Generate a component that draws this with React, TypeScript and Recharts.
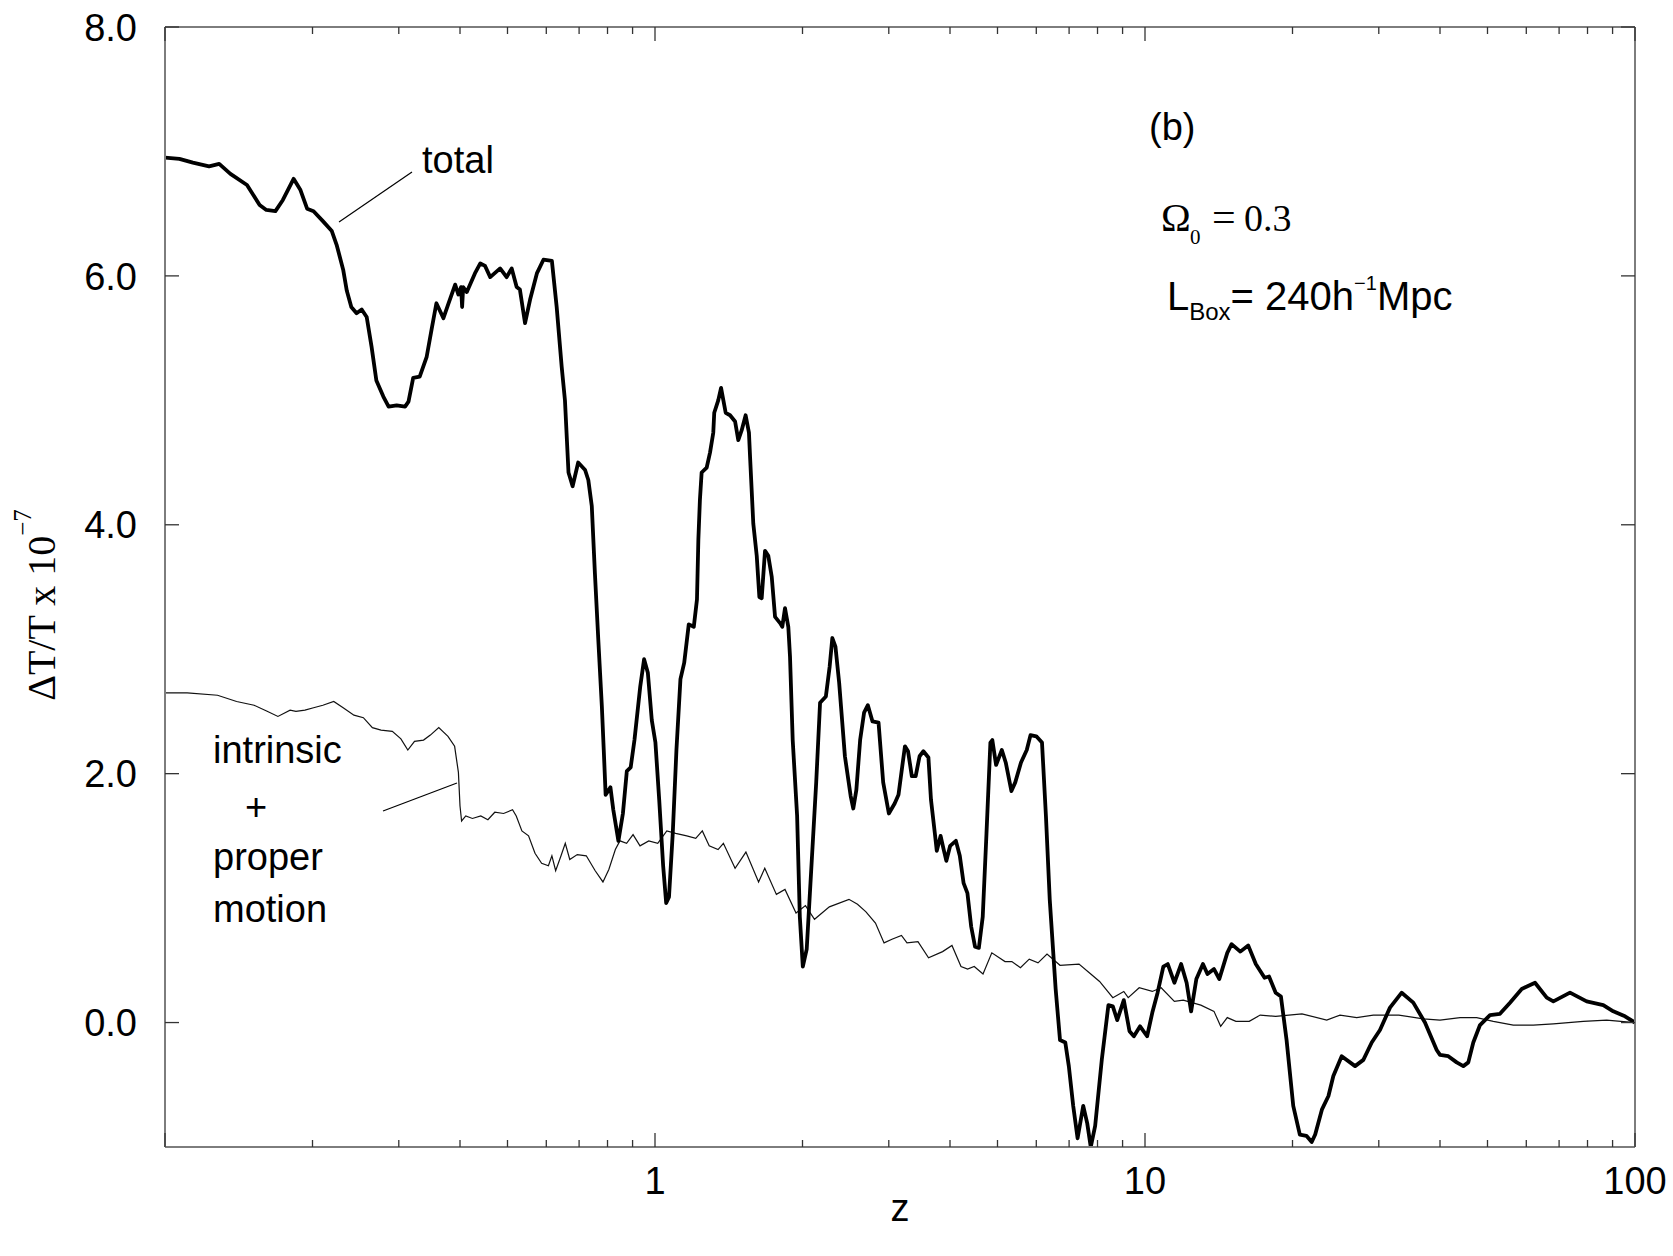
import React from 'react';
import { LineChart, Line, XAxis, YAxis } from 'recharts';

// Redshift samples and ΔT/T (units of 1e-7) for the total signal
const totalZ = [
  0.1, 0.107, 0.114, 0.123, 0.129, 0.136, 0.147, 0.156, 0.161, 0.168, 0.174, 0.183, 0.189, 0.195,
  0.201, 0.21, 0.219, 0.224, 0.231, 0.235, 0.24, 0.246, 0.252, 0.258, 0.264, 0.27, 0.279, 0.286,
  0.297, 0.309, 0.314, 0.321, 0.331, 0.342, 0.35, 0.358, 0.37, 0.379, 0.391, 0.397, 0.402, 0.404,
  0.406, 0.413, 0.429, 0.44, 0.45, 0.461, 0.483, 0.498, 0.51, 0.522, 0.53, 0.543, 0.556, 0.574,
  0.592, 0.616, 0.63, 0.645, 0.655, 0.666, 0.679, 0.697, 0.72, 0.731, 0.743, 0.754, 0.766, 0.779,
  0.786, 0.793, 0.811, 0.822, 0.842, 0.86, 0.876, 0.892, 0.908, 0.933, 0.95, 0.967, 0.985, 1.002,
  1.02, 1.039, 1.054, 1.068, 1.087, 1.106, 1.127, 1.147, 1.172, 1.2, 1.218, 1.226, 1.235, 1.245,
  1.275, 1.295, 1.315, 1.321, 1.346, 1.364, 1.379, 1.394, 1.423, 1.457, 1.479, 1.503, 1.531, 1.555,
  1.563, 1.587, 1.613, 1.633, 1.651, 1.677, 1.703, 1.731, 1.758, 1.8, 1.819, 1.842, 1.871, 1.886,
  1.91, 1.95, 1.975, 2.003, 2.04, 2.095, 2.133, 2.172, 2.232, 2.272, 2.301, 2.335, 2.376, 2.441,
  2.508, 2.539, 2.576, 2.622, 2.671, 2.719, 2.779, 2.859, 2.922, 3.001, 3.084, 3.14, 3.196, 3.237,
  3.284, 3.343, 3.404, 3.467, 3.53, 3.614, 3.658, 3.725, 3.759, 3.827, 3.883, 3.932, 4.003, 4.112,
  4.188, 4.264, 4.341, 4.419, 4.499, 4.581, 4.665, 4.748, 4.836, 4.88, 4.967, 5.103, 5.197, 5.338,
  5.435, 5.584, 5.737, 5.839, 6.001, 6.163, 6.278, 6.391, 6.571, 6.707, 6.876, 6.991, 7.137, 7.285,
  7.481, 7.623, 7.75, 7.912, 8.162, 8.42, 8.597, 8.777, 9.052, 9.298, 9.491, 9.772, 10.1, 10.35,
  10.61, 10.9, 11.13, 11.48, 11.85, 12.16, 12.42, 12.73, 13.13, 13.41, 13.83, 14.18, 14.72, 15.02,
  15.65, 16.24, 16.83, 17.54, 17.91, 18.48, 18.94, 19.45, 20.07, 20.7, 21.35, 21.89, 22.25, 22.96,
  23.68, 24.23, 25.2, 26.84, 27.9, 29.02, 30.17, 31.62, 33.41, 35.28, 37.27, 39.38, 40.0, 41.59,
  43.26, 44.63, 45.69, 46.77, 48.27, 50.59, 53.02, 55.58, 58.72, 62.51, 66.05, 68.14, 73.68, 79.68,
  86.15, 90.3, 95.41, 100,
];
const totalDT = [
  6.95, 6.94, 6.91, 6.88, 6.9, 6.82, 6.73, 6.57, 6.53, 6.52, 6.61, 6.78, 6.69, 6.54,
  6.52, 6.44, 6.36, 6.25, 6.05, 5.88, 5.75, 5.7, 5.73, 5.67, 5.43, 5.16, 5.03, 4.95,
  4.96, 4.95, 4.99, 5.18, 5.19, 5.35, 5.57, 5.78, 5.66, 5.78, 5.93, 5.85, 5.91, 5.75,
  5.91, 5.87, 6.02, 6.1, 6.08, 5.99, 6.06, 5.99, 6.06, 5.91, 5.89, 5.62, 5.81, 6.02,
  6.13, 6.12, 5.75, 5.27, 5.0, 4.42, 4.31, 4.5, 4.44, 4.36, 4.15, 3.61, 3.08, 2.54,
  2.19, 1.83, 1.89, 1.71, 1.46, 1.68, 2.02, 2.05, 2.27, 2.7, 2.92, 2.81, 2.43, 2.25,
  1.79, 1.26, 0.96, 1.01, 1.52, 2.19, 2.76, 2.89, 3.2, 3.18, 3.4, 3.88, 4.2, 4.42,
  4.46, 4.58, 4.74, 4.9, 5.0, 5.1, 5.0, 4.9, 4.88, 4.83, 4.68, 4.76, 4.88, 4.74,
  4.55, 4.01, 3.75, 3.42, 3.41, 3.79, 3.75, 3.58, 3.26, 3.21, 3.18, 3.33, 3.18, 2.94,
  2.27, 1.66, 0.85, 0.45, 0.59, 1.39, 1.93, 2.57, 2.62, 2.86, 3.09, 3.02, 2.73, 2.14,
  1.82, 1.72, 1.87, 2.27, 2.49, 2.55, 2.42, 2.41, 1.93, 1.68, 1.76, 1.83, 2.06, 2.22,
  2.18, 1.98, 1.98, 2.14, 2.18, 2.13, 1.79, 1.52, 1.38, 1.5, 1.39, 1.3, 1.42, 1.46,
  1.34, 1.12, 1.04, 0.77, 0.61, 0.6, 0.85, 1.52, 2.25, 2.27, 2.07, 2.19, 2.09, 1.86,
  1.93, 2.09, 2.19, 2.31, 2.3, 2.25, 1.66, 0.99, 0.27, -0.14, -0.16, -0.35, -0.67, -0.93,
  -0.67, -0.81, -1.0, -0.83, -0.3, 0.14, 0.13, 0.02, 0.18, -0.07, -0.11, -0.03, -0.11, 0.08,
  0.24, 0.45, 0.47, 0.32, 0.47, 0.32, 0.09, 0.35, 0.47, 0.39, 0.43, 0.35, 0.56, 0.63,
  0.57, 0.62, 0.47, 0.36, 0.37, 0.24, 0.21, -0.14, -0.67, -0.9, -0.91, -0.96, -0.9, -0.7,
  -0.59, -0.43, -0.27, -0.35, -0.3, -0.16, -0.06, 0.12, 0.24, 0.16, 0.0, -0.22, -0.26, -0.27,
  -0.32, -0.35, -0.32, -0.16, -0.02, 0.06, 0.07, 0.16, 0.27, 0.32, 0.2, 0.17, 0.24, 0.17,
  0.14, 0.09, 0.05, 0.0,
];

// Intrinsic + proper motion contribution
const intrinsicZ = [
  0.1, 0.111, 0.128, 0.14, 0.152, 0.162, 0.17, 0.18, 0.185, 0.193, 0.201, 0.21, 0.221, 0.231,
  0.243, 0.254, 0.265, 0.276, 0.291, 0.303, 0.313, 0.323, 0.337, 0.348, 0.362, 0.378, 0.39, 0.397,
  0.4, 0.403, 0.411, 0.424, 0.441, 0.456, 0.471, 0.491, 0.512, 0.521, 0.535, 0.552, 0.569, 0.587,
  0.606, 0.616, 0.627, 0.643, 0.656, 0.67, 0.694, 0.724, 0.755, 0.783, 0.805, 0.83, 0.848, 0.875,
  0.902, 0.932, 0.971, 1.013, 1.057, 1.102, 1.161, 1.211, 1.249, 1.29, 1.345, 1.379, 1.457, 1.533,
  1.627, 1.675, 1.769, 1.842, 1.94, 2.028, 2.116, 2.269, 2.488, 2.59, 2.695, 2.818, 2.934, 3.045,
  3.184, 3.268, 3.441, 3.616, 3.863, 4.037, 4.212, 4.345, 4.482, 4.671, 4.868, 5.18, 5.349, 5.569,
  5.804, 6.049, 6.31, 6.707, 7.334, 7.75, 8.078, 8.597, 9.052, 9.241, 9.731, 10.35, 10.79, 11.48,
  11.97, 13.0, 13.83, 14.27, 14.72, 15.33, 16.32, 17.18, 18.48, 20.91, 23.49, 25.0, 27.04, 29.24,
  32.96, 36.98, 40.0, 43.95, 47.53, 51.38, 56.45, 62.01, 68.14, 78.43, 87.53, 100,
];
const intrinsicDT = [
  2.65, 2.65, 2.63, 2.58, 2.55, 2.5, 2.46, 2.51, 2.5, 2.51, 2.53, 2.55, 2.58, 2.53,
  2.47, 2.45, 2.37, 2.35, 2.34, 2.28, 2.19, 2.26, 2.27, 2.31, 2.37, 2.3, 2.22, 2.01,
  1.74, 1.62, 1.66, 1.64, 1.66, 1.63, 1.69, 1.68, 1.71, 1.66, 1.54, 1.5, 1.36, 1.28,
  1.26, 1.34, 1.22, 1.34, 1.44, 1.31, 1.35, 1.34, 1.22, 1.13, 1.23, 1.39, 1.46, 1.44,
  1.51, 1.42, 1.46, 1.44, 1.54, 1.52, 1.5, 1.48, 1.54, 1.42, 1.39, 1.44, 1.24, 1.37,
  1.13, 1.24, 1.03, 1.07, 0.88, 0.94, 0.83, 0.93, 0.99, 0.95, 0.89, 0.8, 0.64, 0.67,
  0.7, 0.64, 0.65, 0.52, 0.57, 0.62, 0.45, 0.43, 0.45, 0.39, 0.56, 0.49, 0.49, 0.44,
  0.51, 0.48, 0.55, 0.46, 0.47, 0.39, 0.33, 0.2, 0.25, 0.2, 0.28, 0.25, 0.28, 0.17,
  0.18, 0.14, 0.09, -0.03, 0.04, 0.01, 0.01, 0.06, 0.05, 0.07, 0.02, 0.06, 0.04, 0.06,
  0.06, 0.03, 0.02, 0.04, 0.04, 0.01, -0.02, -0.02, -0.01, 0.01, 0.02, 0.0,
];

const xTicks = [
  0.1, 0.2, 0.3, 0.4, 0.5, 0.6, 0.7, 0.8, 0.9,
  1, 2, 3, 4, 5, 6, 7, 8, 9,
  10, 20, 30, 40, 50, 60, 70, 80, 90, 100,
];
const xMajorTicks = [0.1, 1, 10, 100];
const xLabelledTicks = [1, 10, 100];
const yTicks = [0, 2, 4, 6, 8];

const totalData = totalZ.map((z, i) => ({ z, dT: totalDT[i] }));
const intrinsicData = intrinsicZ.map((z, i) => ({ z, dT: intrinsicDT[i] }));

const W = 1673;
const H = 1256;
const SANS = '"Liberation Sans", Arial, Helvetica, sans-serif';
const SERIF = '"Liberation Serif", "Times New Roman", Times, serif';
const FRAME = '#7d7d7d';
const TICK = '#333';

const isIn = (list: number[], v: number) => list.some((t) => Math.abs(t - v) < 1e-9);

function BottomTick(props: any) {
  const { x, y, payload } = props;
  const v = payload.value;
  const len = isIn(xMajorTicks, v) ? 14 : 7;
  return (
    <g>
      <line x1={x} x2={x} y1={y} y2={y - len} stroke={TICK} strokeWidth={1.3} />
      {isIn(xLabelledTicks, v) && (
        <text x={x} y={y + 47} textAnchor="middle" fontSize={38} fontFamily={SANS} fill="#000">
          {String(v)}
        </text>
      )}
    </g>
  );
}

function TopTick(props: any) {
  const { x, y, payload } = props;
  const len = isIn(xMajorTicks, payload.value) ? 14 : 7;
  return <line x1={x} x2={x} y1={y} y2={y + len} stroke={TICK} strokeWidth={1.3} />;
}

function LeftTick(props: any) {
  const { x, y, payload } = props;
  return (
    <g>
      <line x1={x} x2={x + 14} y1={y} y2={y} stroke={TICK} strokeWidth={1.3} />
      <text x={x - 28} y={y} dy="0.36em" textAnchor="end" fontSize={38} fontFamily={SANS} fill="#000">
        {Number(payload.value).toFixed(1)}
      </text>
    </g>
  );
}

function RightTick(props: any) {
  const { x, y } = props;
  return <line x1={x} x2={x - 14} y1={y} y2={y} stroke={TICK} strokeWidth={1.3} />;
}

export default function App() {
  return (
    <div style={{ position: 'absolute', left: 0, top: 0, width: W, height: H, background: '#fff' }}>
      <LineChart
        width={W}
        height={H}
        margin={{ top: 26, right: 37, bottom: 49, left: 65 }}
      >
        <XAxis
          xAxisId={0}
          dataKey="z"
          type="number"
          scale="log"
          domain={[0.1, 100]}
          allowDataOverflow
          ticks={xTicks}
          interval={0}
          height={60}
          tickSize={0}
          tickMargin={0}
          tick={<BottomTick />}
          tickLine={false}
          axisLine={{ stroke: FRAME, strokeWidth: 2 }}
        />
        <XAxis
          xAxisId="top"
          orientation="top"
          dataKey="z"
          type="number"
          scale="log"
          domain={[0.1, 100]}
          allowDataOverflow
          ticks={xTicks}
          interval={0}
          height={1}
          tickSize={0}
          tickMargin={0}
          tick={<TopTick />}
          tickLine={false}
          axisLine={{ stroke: FRAME, strokeWidth: 2 }}
        />
        <YAxis
          yAxisId={0}
          type="number"
          domain={[-1, 8]}
          allowDataOverflow
          ticks={yTicks}
          interval={0}
          width={100}
          tickSize={0}
          tickMargin={0}
          tick={<LeftTick />}
          tickLine={false}
          axisLine={{ stroke: FRAME, strokeWidth: 2 }}
        />
        <YAxis
          yAxisId="right"
          orientation="right"
          type="number"
          domain={[-1, 8]}
          allowDataOverflow
          ticks={yTicks}
          interval={0}
          width={1}
          tickSize={0}
          tickMargin={0}
          tick={<RightTick />}
          tickLine={false}
          axisLine={{ stroke: FRAME, strokeWidth: 2 }}
        />
        <Line
          data={intrinsicData}
          dataKey="dT"
          xAxisId={0}
          yAxisId={0}
          type="linear"
          stroke="#111"
          strokeWidth={1.2}
          dot={false}
          activeDot={false}
          isAnimationActive={false}
        />
        <Line
          data={totalData}
          dataKey="dT"
          xAxisId={0}
          yAxisId={0}
          type="linear"
          stroke="#000"
          strokeWidth={3.8}
          strokeLinejoin="round"
          dot={false}
          activeDot={false}
          isAnimationActive={false}
        />
      </LineChart>

      <svg
        width={W}
        height={H}
        style={{ position: 'absolute', left: 0, top: 0, pointerEvents: 'none' }}
      >
        {/* axis titles */}
        <text x={900} y={1221} textAnchor="middle" fontSize={38} fontFamily={SANS} fill="#000">
          z
        </text>
        <text
          transform="translate(55,605) rotate(-90)"
          textAnchor="middle"
          fontSize={40}
          fontFamily={SERIF}
          fill="#000"
        >
          ΔT/T x 10
          <tspan dy={-24} fontSize={25}>−7</tspan>
        </text>

        {/* curve labels */}
        <text x={422} y={173} fontSize={38} fontFamily={SANS} fill="#000">total</text>
        <line x1={412} y1={172} x2={339} y2={222} stroke="#000" strokeWidth={1.2} />

        <text x={213} y={763} fontSize={38} fontFamily={SANS} fill="#000">intrinsic</text>
        <text x={245} y={820} fontSize={38} fontFamily={SANS} fill="#000">+</text>
        <text x={213} y={870} fontSize={38} fontFamily={SANS} fill="#000">proper</text>
        <text x={213} y={922} fontSize={38} fontFamily={SANS} fill="#000">motion</text>
        <line x1={383} y1={811} x2={457} y2={783} stroke="#000" strokeWidth={1.2} />

        {/* panel annotations */}
        <text x={1149} y={140} fontSize={38} fontFamily={SANS} fill="#000">(b)</text>

        <text x={1161} y={231} fontSize={40} fontFamily={SERIF} fill="#000">Ω</text>
        <text x={1190} y={244} fontSize={21} fontFamily={SERIF} fill="#000">0</text>
        <text x={1212} y={231} fontSize={42} fontFamily={SERIF} fill="#000">=</text>
        <text x={1244} y={231} fontSize={38} fontFamily={SERIF} fill="#000">0.3</text>

        <text x={1167} y={310} fontSize={40} fontFamily={SANS} fill="#000">
          L
          <tspan fontSize={24} dy={10}>Box</tspan>
          <tspan dy={-10}>= 240h</tspan>
          <tspan fontSize={20} dy={-20}>−1</tspan>
          <tspan dy={20}>Mpc</tspan>
        </text>
      </svg>
    </div>
  );
}
